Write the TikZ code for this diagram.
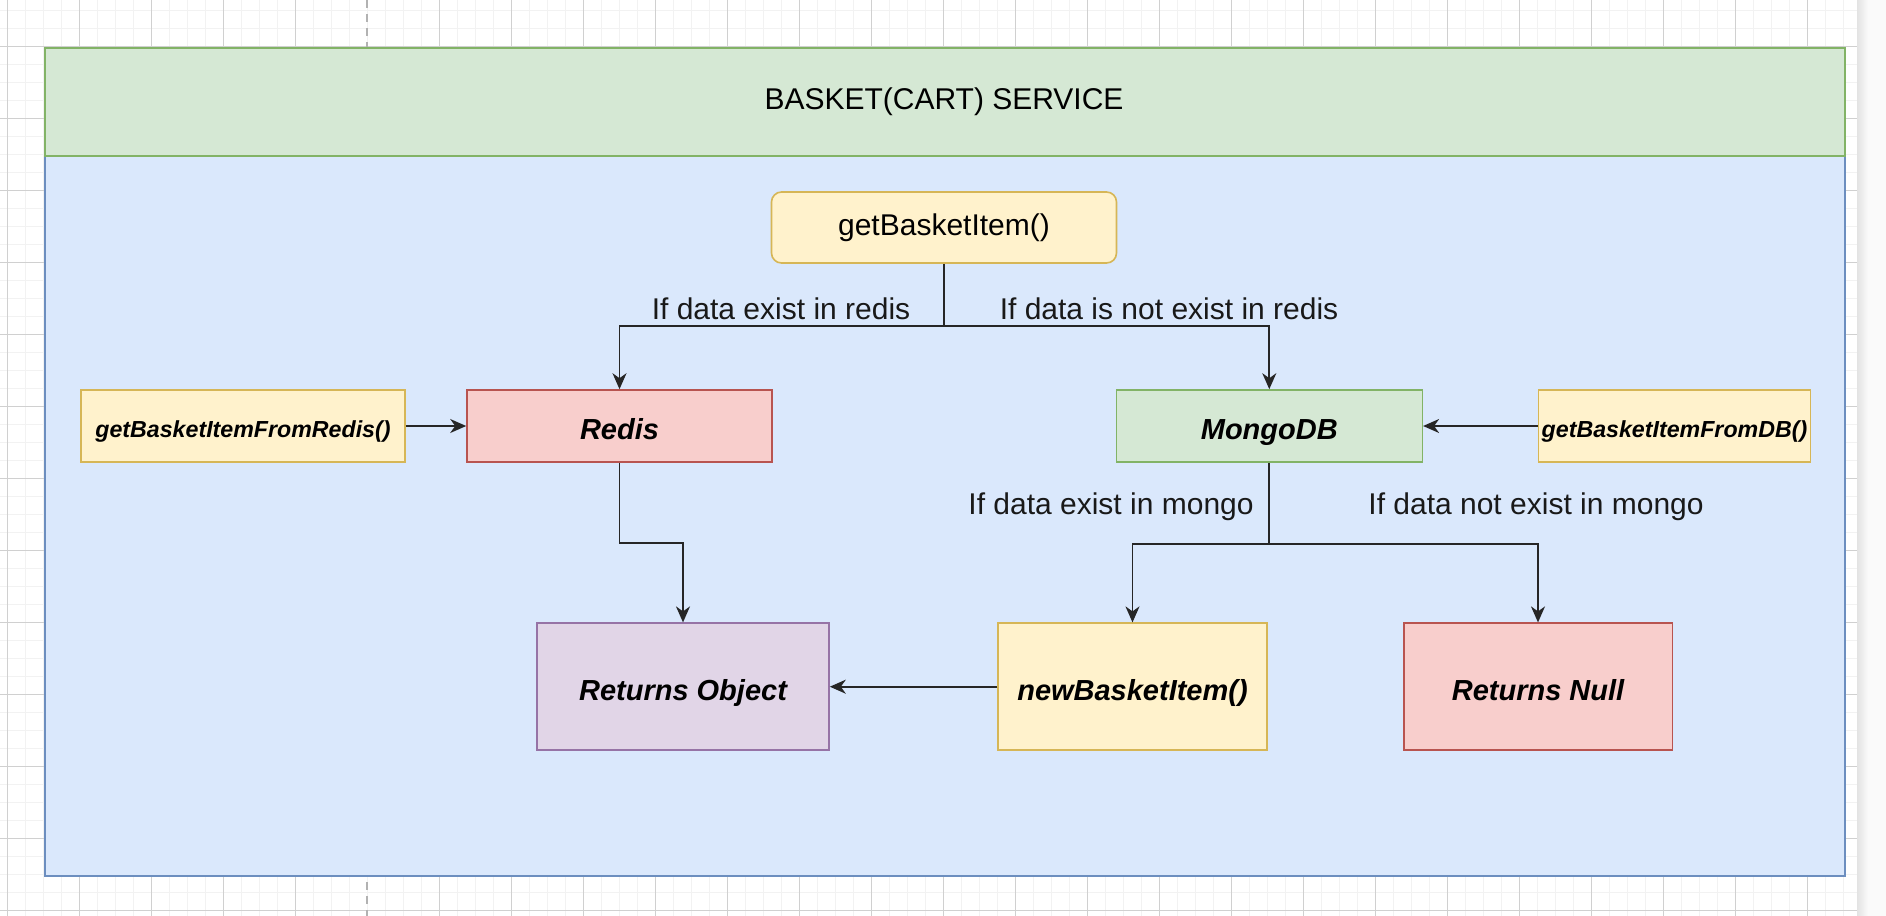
\documentclass[tikz,border=0pt]{standalone}
\usepackage{fontspec}
\setmainfont{Liberation Sans}
\usetikzlibrary{arrows.meta}
\definecolor{gfill}{HTML}{D5E8D4}
\definecolor{gline}{HTML}{82B366}
\definecolor{bfill}{HTML}{DAE8FC}
\definecolor{bline}{HTML}{6C8EBF}
\definecolor{yfill}{HTML}{FFF2CC}
\definecolor{yline}{HTML}{D6B656}
\definecolor{rfill}{HTML}{F8CECC}
\definecolor{rline}{HTML}{B85450}
\definecolor{pfill}{HTML}{E1D5E7}
\definecolor{pline}{HTML}{9673A6}
\definecolor{minorgrid}{HTML}{F2F2F2}
\definecolor{majorgrid}{HTML}{D0D0D0}
\begin{document}
\begin{tikzpicture}[x=0.5pt,y=-0.5pt,
  minor/.style={draw=minorgrid, line width=0.7pt},
  major/.style={draw=majorgrid, line width=0.5pt},
  box/.style={draw, line width=0.8pt, inner sep=0pt, align=center},
  yellowbox/.style={box, fill=yfill, draw=yline},
  redbox/.style={box, fill=rfill, draw=rline},
  greenbox/.style={box, fill=gfill, draw=gline},
  purplebox/.style={box, fill=pfill, draw=pline},
  bigit/.style={font=\fontsize{14.5}{17}\selectfont\bfseries\itshape, text height=13.3pt, text depth=0pt},
  smallit/.style={font=\fontsize{11.6}{14}\selectfont\bfseries\itshape, text height=11pt, text depth=0pt},
  lbl/.style={inner sep=0pt, text=black!90, font=\fontsize{15}{18}\selectfont},
  arr/.style={draw=black!85, line width=0.9pt, -{Stealth[length=8pt,width=7pt,inset=2.5pt]}}]
\useasboundingbox (0,0) rectangle (1886,916);
\fill[white] (0,0) rectangle (1886,916);
% grid
\foreach \k in {0,...,102} \draw[minor] (7.2+18*\k,0) -- (7.2+18*\k,916);
\foreach \k in {0,...,50} \draw[minor] (0,10.3+18*\k) -- (1857,10.3+18*\k);
\foreach \m in {0,1,2,3,4,6,7,...,25} \draw[major] (7.2+72*\m,0) -- (7.2+72*\m,916);
\foreach \m in {0,...,12} \draw[major] (0,46.3+72*\m) -- (1857,46.3+72*\m);
\draw[draw=gray!60, line width=0.8pt, dash pattern=on 4pt off 3pt] (367.2,0) -- (367.2,916);
\shade[left color=gray!22, right color=gray!4] (1857,0) rectangle (1868,916);
\fill[gray!4] (1868,0) rectangle (1886,916);
% service frame
\fill[bfill] (44.5,155.7) rectangle (1844.7,875.7);
\draw[bline, line width=1pt] (44.5,155.7) rectangle (1844.7,875.7);
\node[greenbox, line width=1pt, minimum width=900pt, minimum height=54pt] (header) at (944.6,101.7) {};
\node[lbl, text=black] (title) at (944,102) {BASKET(CART) SERVICE};
% nodes
\node[yellowbox, rounded corners=5pt, minimum width=172.5pt, minimum height=35.5pt, font=\fontsize{15}{18}\selectfont] (get) at (944,227.5) {getBasketItem()};
\node[redbox, bigit, minimum width=152.5pt, minimum height=36pt] (redis) at (619.5,426) {Redis};
\node[greenbox, bigit, minimum width=153pt, minimum height=36pt] (mongo) at (1269.3,426) {MongoDB};
\node[yellowbox, smallit, minimum width=162pt, minimum height=36pt] (fromredis) at (243,426) {getBasketItemFromRedis()};
\node[yellowbox, smallit, minimum width=136pt, minimum height=36pt] (fromdb) at (1674.5,426) {getBasketItemFromDB()};
\node[purplebox, bigit, minimum width=146pt, minimum height=63.5pt] (retobj) at (683,686.7) {Returns Object};
\node[yellowbox, bigit, minimum width=134.3pt, minimum height=63.5pt] (newitem) at (1132.5,686.7) {newBasketItem()};
\node[redbox, bigit, minimum width=134.3pt, minimum height=63.5pt] (retnull) at (1538,686.7) {Returns Null};
% labels
\node[lbl] (lexist) at (781,309) {If data exist in redis};
\node[lbl] (lnotexist) at (1169,309) {If data is not exist in redis};
\node[lbl] (lmongo) at (1111,507) {If data exist in mongo};
\node[lbl] (lnomongo) at (1536,507) {If data not exist in mongo};
% connectors
\coordinate (fork) at (944,326);
\coordinate (rbend) at (619.5,543);
\coordinate (mfork) at (1269.3,544);
\draw[arr] (get) -- (fork) -| (redis);
\draw[arr] (fork) -| (mongo);
\draw[arr] (fromredis) -- (redis);
\draw[arr] (fromdb) -- (mongo);
\draw[arr] (redis) -- (rbend) -| (retobj);
\draw[arr] (mongo) -- (mfork) -| (newitem);
\draw[arr] (mfork) -| (retnull);
\draw[arr] (newitem) -- (retobj);
\end{tikzpicture}
\end{document}
